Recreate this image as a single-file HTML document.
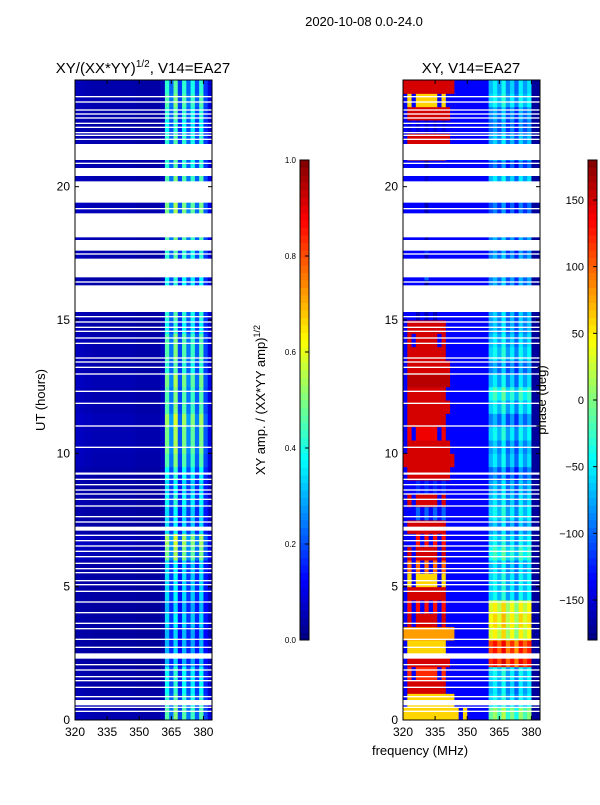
<!DOCTYPE html>
<html><head><meta charset="utf-8"><style>
body{margin:0;background:#fff;}
svg text{font-family:"Liberation Sans",sans-serif;fill:#000;}
</style></head><body>
<svg id="fig" width="600" height="800" xmlns="http://www.w3.org/2000/svg">
<text x="364" y="26" font-size="13" text-anchor="middle">2020-10-08 0.0-24.0</text>
<text x="143" y="73" font-size="15" text-anchor="middle">XY/(XX*YY)<tspan font-size="10" dy="-6">1/2</tspan><tspan dy="6">, V14=EA27</tspan></text>
<text x="471" y="73" font-size="15" text-anchor="middle">XY, V14=EA27</text>
<text transform="translate(45,400) rotate(-90)" font-size="13" text-anchor="middle">UT (hours)</text>
<text transform="translate(265,400) rotate(-90)" font-size="13" text-anchor="middle">XY amp. / (XX*YY amp)<tspan font-size="9" dy="-5">1/2</tspan></text>
<text x="420" y="755" font-size="13" text-anchor="middle">frequency (MHz)</text>
<g id="left"></g>
<g id="right"></g>
<g id="flags"></g>
<g id="axes"></g>
<g id="cbars"></g>
<text transform="translate(546,400) rotate(-90)" font-size="13" text-anchor="middle">phase (deg)</text>
</svg>
<script>
// ---- data ----
const freqEdges = [320,322,324,326,328,330,332,334,336,338,340,342,344,346,348,350,352,354,356,358,360,362,364,366,368,370,372,374,376,378,380,382,384];
// amplitude column profile (per freq bin)
const ampCol = [0.05,0.05,0.045,0.045,0.04,0.04,0.04,0.04,0.04,0.04,0.04,0.04,0.04,0.04,0.035,0.035,0.035,0.035,0.035,0.035,0.05,0.38,0.2,0.42,0.16,0.38,0.2,0.36,0.18,0.38,0.16,0.08];
// amplitude row scale per half-hour (0h..24h)
const ampRow = [1.2,1.1,1.0,1.0,0.8,0.8,0.8,0.9,0.8,0.9,0.9,0.9,1.3,1.4,0.9,0.9,1.0,0.9,1.0,1.2,1.3,1.3,1.4,1.2,1.2,1.3,1.1,1.2,1.2,1.0,1.1,1.1,1.0,1.0,1.1,1.1,1.2,1.2,1.3,1.2,1.2,1.1,1.1,1.1,1.0,1.1,1.2,1.1];
// likelihood each freq bin shows the "source" phase instead of blue background
const phaseColW = [0.3,0.7,0.45,0.85,0.6,0.95,0.55,0.9,0.5,0.8,0.4,0.35,0.25,0.15,0.2,0.1,0.05,0,0,0,0,0,0,0,0,0,0,0,0,0,0,0];
// per-row density of source phase in the low band
const phaseDens = [0.8,0.7,0.55,0.5,0.65,0.55,0.75,0.5,0.4,0.55,0.5,0.4,0.5,0.3,0.55,0.25,0.5,0.25,0.65,0.75,0.65,0.5,0.55,0.65,0.55,0.65,0.65,0.55,0.5,0.55,0.2,0.1,0.1,0.1,0.1,0.1,0.1,0.1,0.1,0.1,0.1,0.1,0.55,0.65,0.4,0.65,0.5,0.75];
// phase offset for the 360-382 MHz region
const phaseColOff = [0,0,0,0,0,0,0,0,0,0,0,0,0,0,0,0,0,0,0,0,0,20,-10,30,-20,10,-30,20,-10,15,0,0];
// phase per half-hour row, low band (320-350 MHz) and high band (360-382 MHz)
const phaseLow = [60,60,150,120,150,60,80,150,130,150,60,100,150,130,150,-100,150,-120,150,150,150,140,150,150,150,160,150,150,150,150,-160,-150,-170,-100,-160,-120,-160,-170,-160,-160,-150,-160,100,150,-150,150,60,150];
const phaseHigh = [-10,-60,-70,-60,120,110,30,40,30,-60,-60,-70,-40,-60,-80,-60,-70,-80,-100,-70,-80,-60,-90,-60,-40,-70,-90,-60,-70,-80,-80,-60,-90,-90,-90,-100,-90,-100,-110,-90,-70,-110,-60,-80,-100,-90,-60,-70];
// flagged time ranges (hours)
const flagStart = [0.55,2.3,7.1,9.2,15.3,16.6,17.6,18.1,19.4,20.4,21.0,22.0,21.75];
const flagEnd   = [0.75,2.5,7.25,9.28,16.3,17.3,18.0,19.0,20.2,20.7,21.6,22.05,21.8];
const thinFlags = [0.3,0.45,0.85,1.2,1.45,1.6,1.85,2.05,2.7,3.0,3.4,3.6,4.0,4.4,4.8,5.05,5.2,5.5,5.65,5.85,6.1,6.3,6.5,6.7,6.9,7.4,7.6,8.0,8.25,8.45,8.6,8.8,9.0,10.2,11.0,11.85,12.3,12.95,13.2,13.4,13.55,14.1,14.3,14.55,14.7,14.9,15.1,15.5,16.4,17.45,19.15,20.85,21.9,22.2,22.35,22.55,22.7,22.85,23.15,23.35];
const xTicks = [320,335,350,365,380];
const yTicks = [0,5,10,15,20];
const ampTicks = [0.0,0.2,0.4,0.6,0.8,1.0];
const phaseTicks = [-150,-100,-50,0,50,100,150];

// ---- helpers ----
const NS="http://www.w3.org/2000/svg";
function el(tag,attrs,parent){const e=document.createElementNS(NS,tag);for(const k in attrs)e.setAttribute(k,attrs[k]);parent.appendChild(e);return e;}
function jet(v){v=Math.max(0,Math.min(1,v));
 const r=Math.max(0,Math.min(1,1.5-Math.abs(4*v-3))),g=Math.max(0,Math.min(1,1.5-Math.abs(4*v-2))),b=Math.max(0,Math.min(1,1.5-Math.abs(4*v-1)));
 return `rgb(${Math.round(r*255)},${Math.round(g*255)},${Math.round(b*255)})`;}
const Y0=80,Y1=720,HMAX=24;
function yScale(h){return Y1-(h/HMAX)*(Y1-Y0);}
function xScaleL(f){return 75+(f-320)/64*137;}
function xScaleR(f){return 403+(f-320)/64*137;}
const L=document.getElementById('left'),R=document.getElementById('right');
const rowH=0.5;
for(let i=0;i<ampRow.length;i++){
 const yT=yScale((i+1)*rowH),yB=yScale(i*rowH);
 for(let j=0;j<ampCol.length;j++){
  const a=Math.min(1,ampCol[j]*ampRow[i]);
  const c=el('rect',{x:xScaleL(freqEdges[j]),y:yT,width:xScaleL(freqEdges[j+1])-xScaleL(freqEdges[j])+0.5,height:yB-yT+0.5,fill:jet(a)},L);
  
  
  let p;
  if(freqEdges[j]>=380) p=-170;
  else if(freqEdges[j]>=360) p=phaseHigh[i]+phaseColOff[j];
  else p=(phaseColW[j] > 1-phaseDens[i]) ? phaseLow[i] : -135;
  const c2=el('rect',{x:xScaleR(freqEdges[j]),y:yT,width:xScaleR(freqEdges[j+1])-xScaleR(freqEdges[j])+0.5,height:yB-yT+0.5,fill:jet((p+180)/360)},R);
  
  
 }
}
const F=document.getElementById('flags');
function flagRect(h0,h1){
 for(const xs of [xScaleL,xScaleR]){
  const r=el('rect',{x:xs(320),y:yScale(h1),width:137,height:Math.max(1.2,yScale(h0)-yScale(h1)),fill:'#fff'},F);
  
  
 }
}
for(let k=0;k<flagStart.length;k++)flagRect(flagStart[k],flagEnd[k]);
for(const t of thinFlags)flagRect(t,t+0.05);
// axes
const A=document.getElementById('axes');
for(const [xs,name] of [[xScaleL,'left'],[xScaleR,'right']]){
 const fr=el('rect',{x:xs(320),y:Y0,width:137,height:Y1-Y0,fill:'none',stroke:'#000','stroke-width':1},A);
 
 
 for(const t of xTicks){const x=xs(t);
  el('line',{x1:x,x2:x,y1:Y1,y2:Y1-4,stroke:'#000'},A);el('line',{x1:x,x2:x,y1:Y0,y2:Y0+4,stroke:'#000'},A);
  const tx=el('text',{x:x,y:Y1+16,'font-size':12,'text-anchor':'middle'},A);tx.textContent=t;
  
  }
 for(const t of yTicks){const y=yScale(t);
  el('line',{x1:xs(320),x2:xs(320)+4,y1:y,y2:y,stroke:'#000'},A);el('line',{x1:xs(384),x2:xs(384)-4,y1:y,y2:y,stroke:'#000'},A);
  const tx=el('text',{x:xs(320)-5,y:y+4,'font-size':12,'text-anchor':'end'},A);tx.textContent=t;
  
  }
}
// colorbars
const C=document.getElementById('cbars');
function cbar(x,ticks,lo,hi,fs,name,fmt){
 const top=160,bot=640,n=64;
 for(let k=0;k<n;k++){const yy=bot-(k+1)*(bot-top)/n;
  el('rect',{x:x,y:yy,width:9,height:(bot-top)/n+0.5,fill:jet((k+0.5)/n)},C);}
 const fr=el('rect',{x:x,y:top,width:9,height:bot-top,fill:'none',stroke:'#000'},C);
 
 
 for(const t of ticks){const y=bot-(t-lo)/(hi-lo)*(bot-top);
  el('line',{x1:x+9,x2:x+5,y1:y,y2:y,stroke:'#000'},C);
  const tx=el('text',{x:x-4,y:y+(fs<10?3:4),'font-size':fs,'text-anchor':'end'},C);
  tx.textContent=fmt(t);
  
  }
}
cbar(300,ampTicks,0,1,8,'amp-colorbar',t=>t.toFixed(1));
cbar(588,phaseTicks,-180,180,11,'phase-colorbar',t=>t<0?'\u2212'+(-t):''+t);
</script>
</body></html>
